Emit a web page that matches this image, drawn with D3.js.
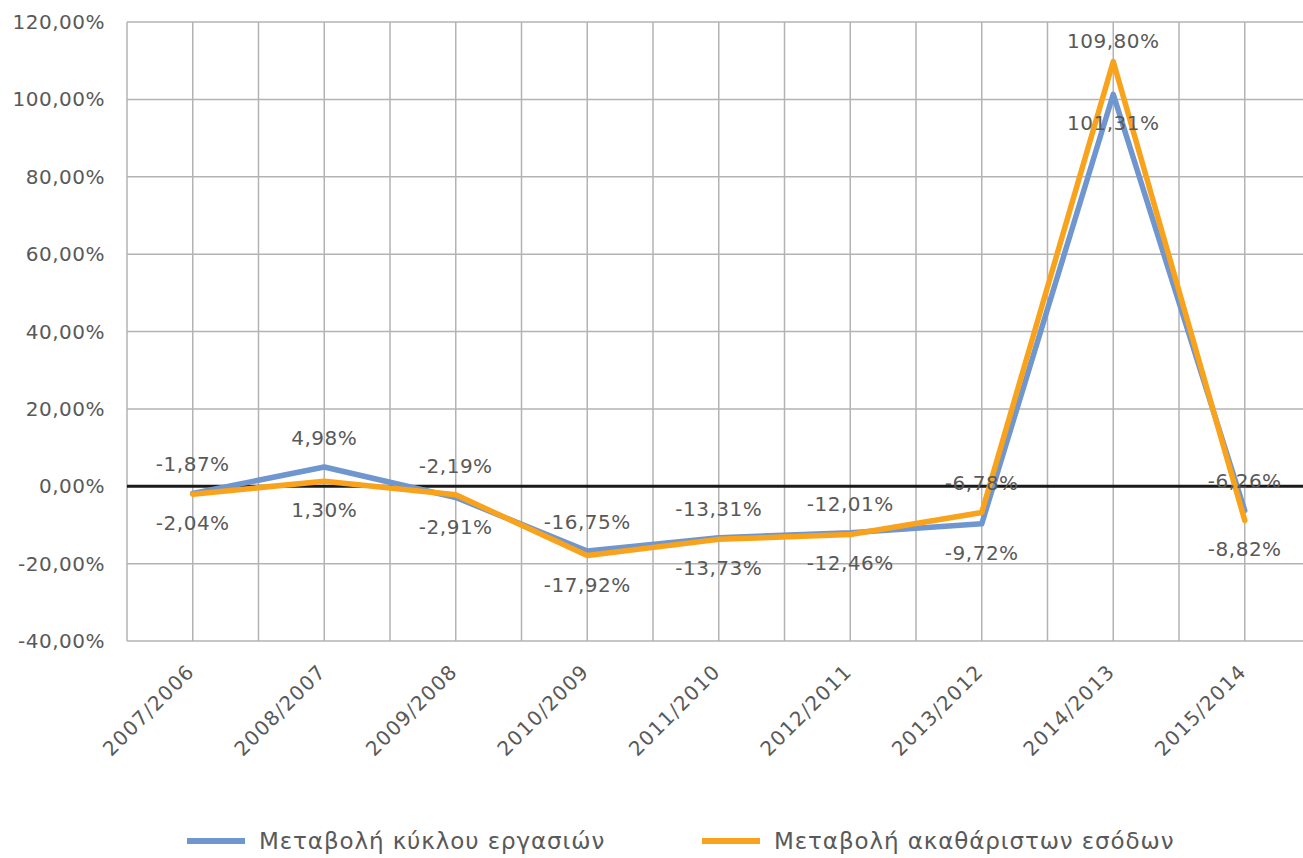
<!DOCTYPE html>
<html>
<head>
<meta charset="utf-8">
<script src="https://cdn.jsdelivr.net/npm/d3@7"></script>
<style>
  body { margin: 0; background: #fff; }
  svg { display: block; font-family: "DejaVu Sans", sans-serif; }
</style>
</head>
<body>
<svg width="1303" height="858"></svg>
<script>
// chart data
var categories = ["2007/2006", "2008/2007", "2009/2008", "2010/2009", "2011/2010",
                  "2012/2011", "2013/2012", "2014/2013", "2015/2014"];
var kyklos = [-1.87, 4.98, -2.91, -16.75, -13.31, -12.01, -9.72, 101.31, -6.26];
var esoda = [-2.04, 1.30, -2.19, -17.92, -13.73, -12.46, -6.78, 109.80, -8.82];
var yTicks = [-40, -20, 0, 20, 40, 60, 80, 100, 120];
var seriesNames = ["Μεταβολή κύκλου εργασιών", "Μεταβολή ακαθάριστων εσόδων"];

var svg = d3.select("svg");
var plotLeft = 127, plotTop = 22, plotBottom = 641, step = 131.5;
var plotRight = plotLeft + step * categories.length;

var x = d3.scalePoint()
    .domain(categories)
    .range([plotLeft + step / 2, plotRight - step / 2]);

var y = d3.scaleLinear()
    .domain([-40, 120])
    .range([plotBottom, plotTop]);

var fmt = function(v) { return v.toFixed(2).replace(".", ",") + "%"; };
var textColor = "#595959";
var gridColor = "#b3b3b3";
var fs = 20, ls = 0.5;

// horizontal grid
svg.append("g").selectAll("line")
  .data(yTicks)
  .enter().append("line")
    .attr("x1", plotLeft).attr("x2", plotRight)
    .attr("y1", function(d) { return y(d); })
    .attr("y2", function(d) { return y(d); })
    .attr("stroke", gridColor).attr("stroke-width", 1.5);

// vertical grid : category lines + in between
var vlines = [];
categories.forEach(function(c) { vlines.push(x(c) - step / 2); vlines.push(x(c)); });
vlines.push(plotRight);
svg.append("g").selectAll("line")
  .data(vlines)
  .enter().append("line")
    .attr("x1", function(d) { return d; }).attr("x2", function(d) { return d; })
    .attr("y1", plotTop).attr("y2", plotBottom)
    .attr("stroke", gridColor).attr("stroke-width", 1.5);

// zero line
svg.append("line")
    .attr("x1", plotLeft).attr("x2", plotRight)
    .attr("y1", y(0)).attr("y2", y(0))
    .attr("stroke", "#1a1a1a").attr("stroke-width", 3);

// y axis labels
svg.append("g").selectAll("text")
  .data(yTicks)
  .enter().append("text")
    .attr("x", 105)
    .attr("y", function(d) { return y(d); })
    .attr("dy", "0.35em")
    .attr("text-anchor", "end")
    .attr("font-size", fs)
    .attr("letter-spacing", ls)
    .attr("fill", textColor)
    .text(fmt);

// x axis labels
svg.append("g").selectAll("text")
  .data(categories)
  .enter().append("text")
    .attr("transform", function(d) { return "translate(" + (x(d) - 7) + "," + 663 + ") rotate(-45)"; })
    .attr("text-anchor", "end")
    .attr("dy", "0.7em")
    .attr("font-size", fs)
    .attr("letter-spacing", 1.2)
    .attr("fill", textColor)
    .text(function(d) { return d; });

var series = [
  { name: seriesNames[0], values: kyklos, color: "#6f96cf" },
  { name: seriesNames[1], values: esoda, color: "#f9a31c" }
];

var line = d3.line()
    .x(function(d, i) { return x(categories[i]); })
    .y(function(d) { return y(d); });

series.forEach(function(s) {
  svg.append("path")
      .datum(s.values)
      .attr("d", line)
      .attr("fill", "none")
      .attr("stroke", s.color)
      .attr("stroke-width", 5.5)
      .attr("stroke-linejoin", "round")
      .attr("stroke-linecap", "round");
});

// data labels: larger value above, smaller below
categories.forEach(function(c, i) {
  var a = kyklos[i], b = esoda[i];
  var hi = Math.max(a, b), lo = Math.min(a, b);
  svg.append("text")
      .attr("x", x(c))
      .attr("y", Math.max(y(hi) - 22, 48))
      .attr("text-anchor", "middle")
      .attr("font-size", fs)
      .attr("letter-spacing", ls)
      .attr("fill", textColor)
      .text(fmt(hi));
  svg.append("text")
      .attr("x", x(c))
      .attr("y", y(lo) + 22)
      .attr("dy", "0.7em")
      .attr("text-anchor", "middle")
      .attr("font-size", fs)
      .attr("letter-spacing", ls)
      .attr("fill", textColor)
      .text(fmt(lo));
});

// legend
var legend = svg.append("g").selectAll("g")
  .data(series)
  .enter().append("g")
    .attr("transform", function(d, i) { return "translate(" + (i === 0 ? 187 : 702) + ",841)"; });
legend.append("line")
    .attr("x1", 0).attr("x2", 58)
    .attr("stroke", function(d) { return d.color; })
    .attr("stroke-width", 6);
legend.append("text")
    .attr("x", 72)
    .attr("dy", "0.35em")
    .attr("font-size", 23)
    .attr("letter-spacing", 0.9)
    .attr("fill", textColor)
    .text(function(d) { return d.name; });
</script>
</body>
</html>
